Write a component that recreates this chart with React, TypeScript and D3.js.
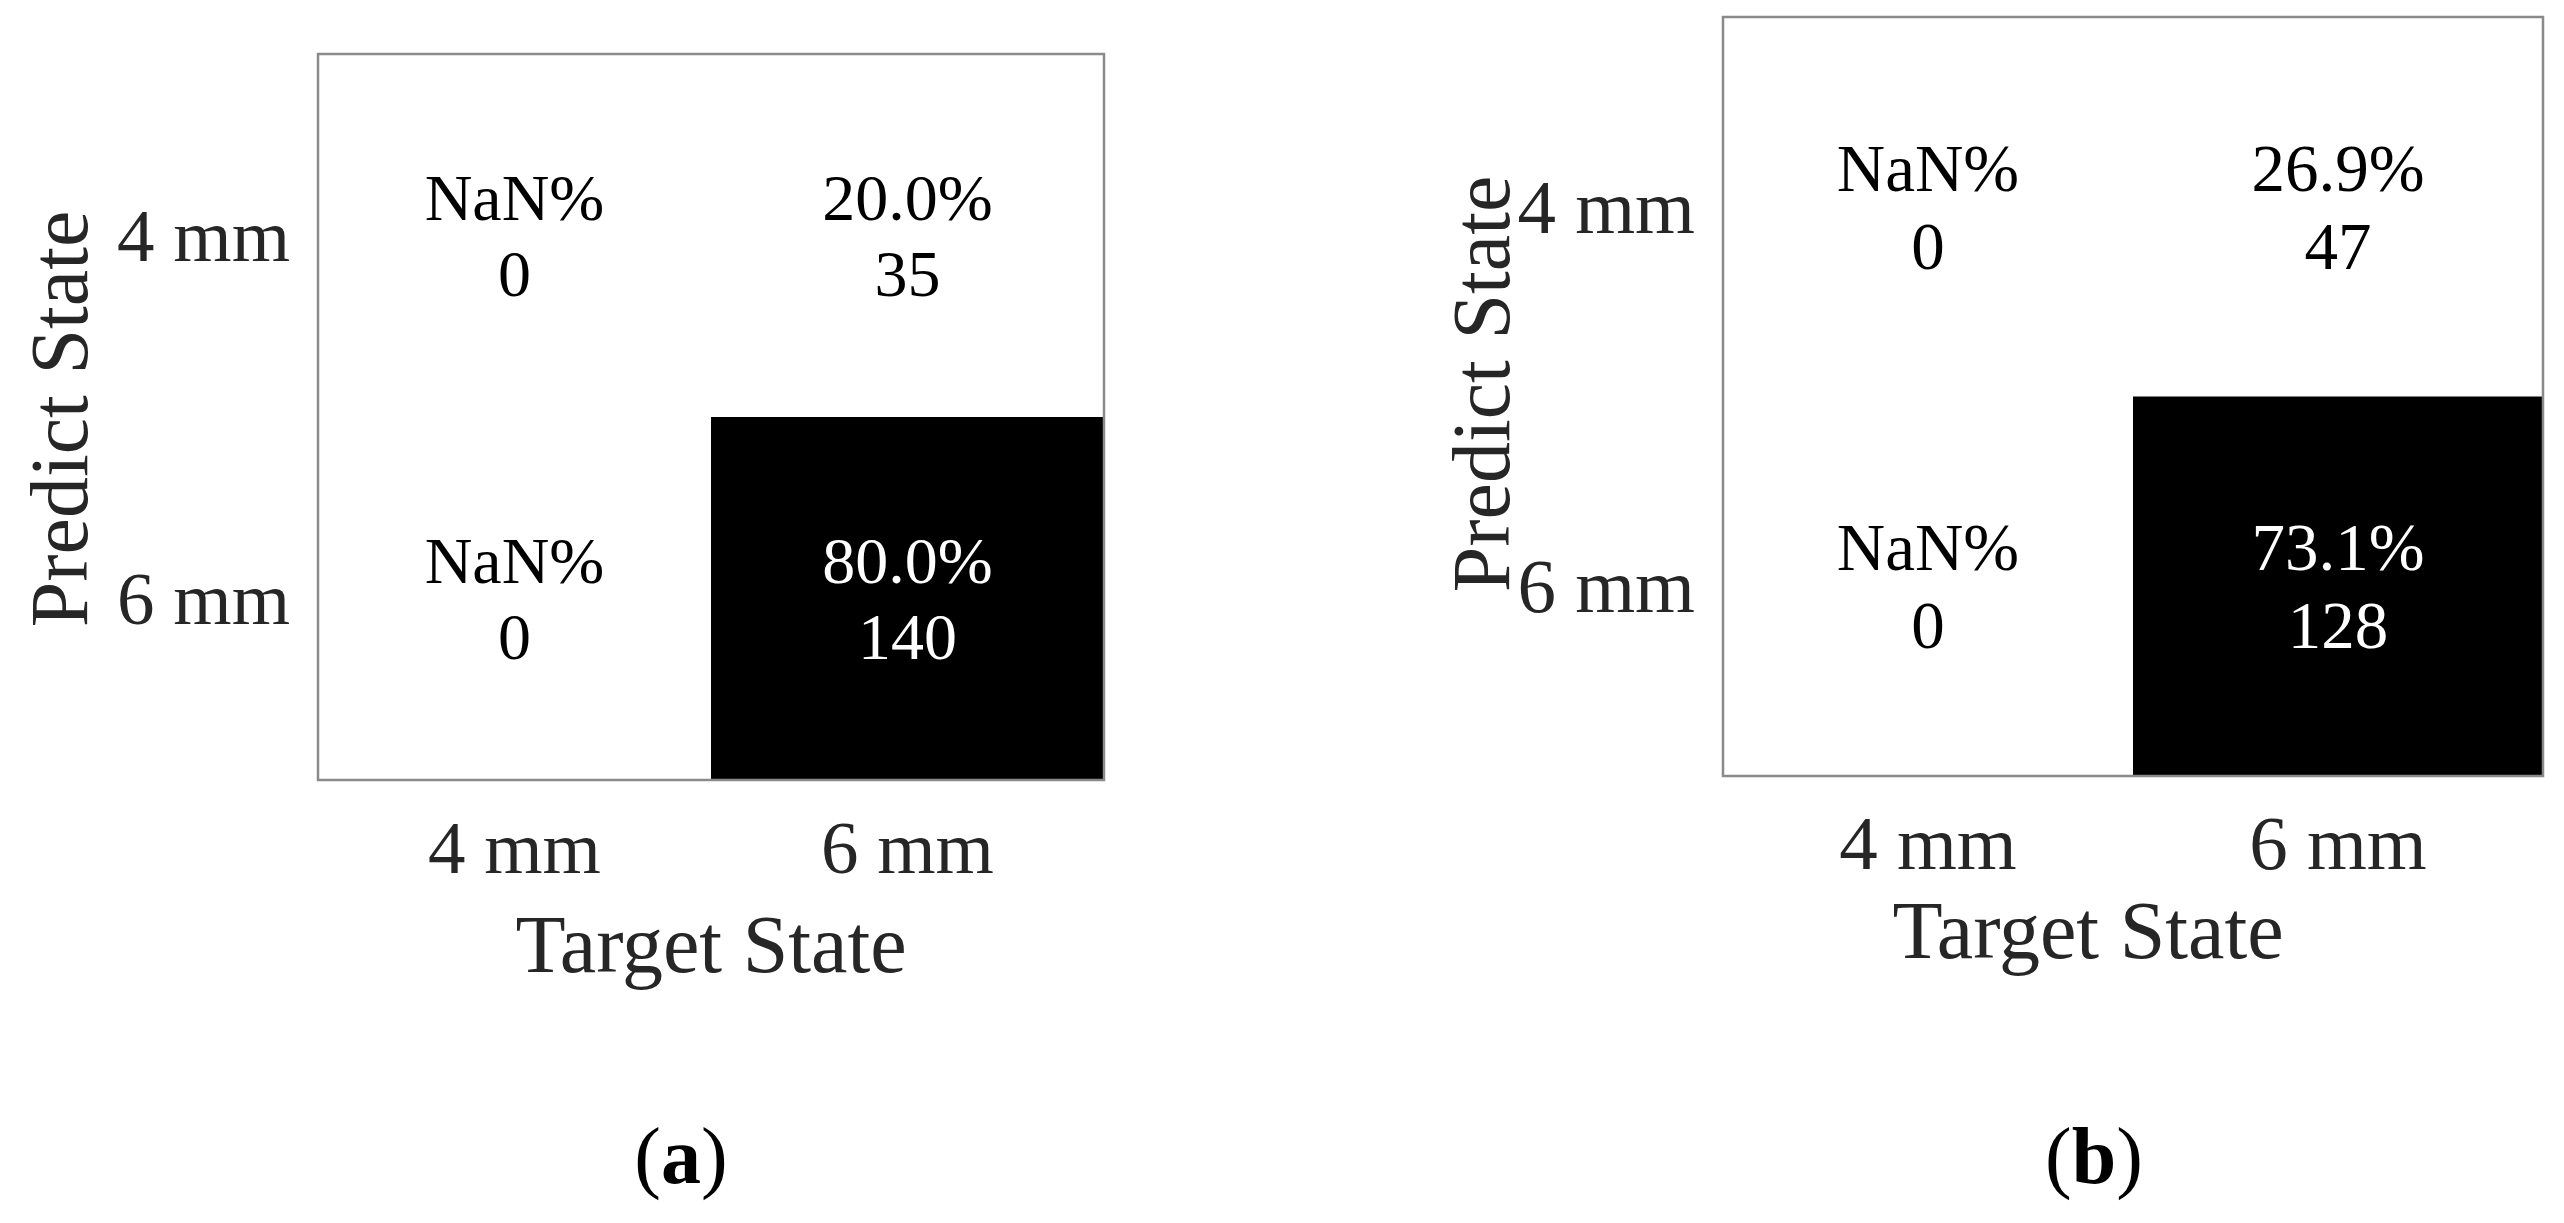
import React, { useEffect, useRef } from "react";
import * as d3 from "d3";

// class labels, same order on both axes
const classNames = ["4 mm", "6 mm"];
// rows = predicted class, columns = target class
const countsA = [
  [0, 35],
  [0, 140],
];
const countsB = [
  [0, 47],
  [0, 128],
];
const panelTags = ["a", "b"];
const xAxisLabel = "Target State";
const yAxisLabel = "Predict State";

const FONT = "'Liberation Serif', 'Times New Roman', serif";

const layouts = [
  {
    left: 318, top: 54, right: 1104, bottom: 780,
    cellFont: 66, lineGap: 38, tickFont: 75, labelFont: 82,
    yLabelX: 87, yLabelY: 419, xLabelX: 711, xLabelY: 972, tagX: 681,
  },
  {
    left: 1723, top: 17, right: 2543, bottom: 776,
    cellFont: 67, lineGap: 39, tickFont: 77, labelFont: 82,
    yLabelX: 1509, yLabelY: 384, xLabelX: 2088, xLabelY: 958, tagX: 2094,
  },
];

function ConfusionCharts() {
  const ref = useRef<SVGSVGElement>(null);

  useEffect(() => {
    const svg = d3.select(ref.current);
    svg.selectAll("*").remove();

    const fillScale = d3.scaleThreshold<number, string>().domain([0.5]).range(["#ffffff", "#000000"]);
    const textScale = d3.scaleThreshold<number, string>().domain([0.5]).range(["#000000", "#ffffff"]);
    const pctFormat = (v: number) => `${(v * 100).toFixed(1)}%`;

    [countsA, countsB].forEach((counts, p) => {
      const L = layouts[p];
      const x = d3.scaleBand().domain(classNames).range([L.left, L.right]);
      const y = d3.scaleBand().domain(classNames).range([L.top, L.bottom]);
      const colTotals = classNames.map((_, j) => d3.sum(counts, (row) => row[j]));

      const cells = counts.flatMap((row, i) =>
        row.map((value, j) => ({
          pred: classNames[i],
          target: classNames[j],
          value,
          pct: value / colTotals[j],
        }))
      );

      const g = svg.append("g").attr("font-family", FONT);

      g.selectAll("rect.cell")
        .data(cells)
        .enter()
        .append("rect")
        .attr("class", "cell")
        .attr("x", (d) => x(d.target)!)
        .attr("y", (d) => y(d.pred)!)
        .attr("width", x.bandwidth())
        .attr("height", y.bandwidth())
        .attr("fill", (d) => (isNaN(d.pct) ? "#ffffff" : fillScale(d.pct)));

      g.append("rect")
        .attr("x", L.left)
        .attr("y", L.top)
        .attr("width", L.right - L.left)
        .attr("height", L.bottom - L.top)
        .attr("fill", "none")
        .attr("stroke", "#8a8a8a")
        .attr("stroke-width", 2.5);

      const labels = g
        .selectAll("g.cellText")
        .data(cells)
        .enter()
        .append("g")
        .attr("class", "cellText")
        .attr("font-size", L.cellFont)
        .attr("text-anchor", "middle")
        .attr("fill", (d) => (isNaN(d.pct) ? "#000000" : textScale(d.pct)));
      labels
        .append("text")
        .attr("x", (d) => x(d.target)! + x.bandwidth() / 2)
        .attr("y", (d) => y(d.pred)! + y.bandwidth() / 2 - L.lineGap)
        .attr("dominant-baseline", "central")
        .text((d) => pctFormat(d.pct));
      labels
        .append("text")
        .attr("x", (d) => x(d.target)! + x.bandwidth() / 2)
        .attr("y", (d) => y(d.pred)! + y.bandwidth() / 2 + L.lineGap)
        .attr("dominant-baseline", "central")
        .text((d) => d.value);

      // y tick labels
      g.selectAll("text.ytick")
        .data(classNames)
        .enter()
        .append("text")
        .attr("class", "ytick")
        .attr("x", L.left - 28)
        .attr("y", (d) => y(d)! + y.bandwidth() / 2)
        .attr("dominant-baseline", "central")
        .attr("text-anchor", "end")
        .attr("font-size", L.tickFont)
        .attr("fill", "#262626")
        .text((d) => d);

      // x tick labels
      g.selectAll("text.xtick")
        .data(classNames)
        .enter()
        .append("text")
        .attr("class", "xtick")
        .attr("x", (d) => x(d)! + x.bandwidth() / 2)
        .attr("y", L.bottom + 93)
        .attr("text-anchor", "middle")
        .attr("font-size", L.tickFont)
        .attr("fill", "#262626")
        .text((d) => d);

      g.append("text")
        .attr("x", L.xLabelX)
        .attr("y", L.xLabelY)
        .attr("text-anchor", "middle")
        .attr("font-size", L.labelFont)
        .attr("fill", "#262626")
        .text(xAxisLabel);

      g.append("text")
        .attr("transform", `translate(${L.yLabelX},${L.yLabelY}) rotate(-90)`)
        .attr("text-anchor", "middle")
        .attr("font-size", L.labelFont)
        .attr("fill", "#262626")
        .text(yAxisLabel);

      const tag = g
        .append("text")
        .attr("x", L.tagX)
        .attr("y", 1183)
        .attr("text-anchor", "middle")
        .attr("font-size", 80)
        .attr("fill", "#000000");
      tag.append("tspan").text("(");
      tag.append("tspan").attr("font-weight", "bold").text(panelTags[p]);
      tag.append("tspan").text(")");
    });
  }, []);

  return (
    <svg
      ref={ref}
      width={2564}
      height={1223}
      style={{ position: "absolute", left: 0, top: 0, display: "block", background: "#fff" }}
    />
  );
}

export default function App() {
  return <ConfusionCharts />;
}
